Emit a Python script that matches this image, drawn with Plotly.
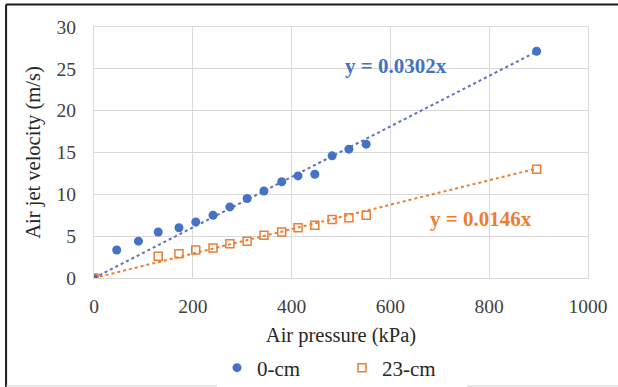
import plotly.graph_objects as go

pressure_0cm = [0, 46, 90, 130, 172, 206, 241, 275, 310, 344, 380, 413, 447, 482, 516, 551, 896]
velocity_0cm = [0, 3.35, 4.4, 5.5, 6.0, 6.7, 7.5, 8.5, 9.5, 10.4, 11.5, 12.2, 12.4, 14.6, 15.4, 16.0, 27.1]

pressure_23cm = [0, 130, 172, 206, 241, 275, 310, 344, 380, 413, 447, 482, 516, 551, 896]
velocity_23cm = [0, 2.6, 2.9, 3.35, 3.6, 4.1, 4.4, 5.1, 5.5, 6.0, 6.3, 7.0, 7.2, 7.5, 13.0]

slope_0cm = 0.0302
slope_23cm = 0.0146
trend_x = [0, 896]

x_ticks = [0, 200, 400, 600, 800, 1000]
y_ticks = [0, 5, 10, 15, 20, 25, 30]

BLUE = "#4472C4"
ORANGE = "#ED7D31"
FONT = "Liberation Serif"

fig = go.Figure()

fig.add_trace(go.Scatter(
    x=trend_x, y=[slope_0cm * v for v in trend_x], mode="lines",
    line=dict(color="#5a6fc0", width=2, dash="dot"), showlegend=False, hoverinfo="skip"))
fig.add_trace(go.Scatter(
    x=trend_x, y=[slope_23cm * v for v in trend_x], mode="lines",
    line=dict(color=ORANGE, width=2, dash="dot"), showlegend=False, hoverinfo="skip"))

fig.add_trace(go.Scatter(
    x=pressure_0cm, y=velocity_0cm, mode="markers", name="0-cm",
    marker=dict(symbol="circle", size=9, color=BLUE)))
fig.add_trace(go.Scatter(
    x=pressure_23cm, y=velocity_23cm, mode="markers", name="23-cm",
    marker=dict(symbol="square-open", size=8, color=ORANGE, line=dict(width=1.5, color=ORANGE))))

fig.add_annotation(x=611, y=25.3, text="<b>y = 0.0302x</b>", showarrow=False,
                   font=dict(family=FONT, size=21, color=BLUE))
fig.add_annotation(x=783, y=7.1, text="<b>y = 0.0146x</b>", showarrow=False,
                   font=dict(family=FONT, size=21, color=ORANGE))

# outer frame lines
fig.add_shape(type="line", xref="paper", yref="paper", x0=-0.178, x1=1.07, y0=1.09, y1=1.09,
              line=dict(color="#1a1a1a", width=2))
fig.add_shape(type="line", xref="paper", yref="paper", x0=-0.178, x1=-0.178, y0=1.09, y1=-0.44,
              line=dict(color="#1a1a1a", width=2))
fig.add_shape(type="line", xref="paper", yref="paper", x0=-0.178, x1=1.07, y0=-0.43, y1=-0.43,
              line=dict(color="#d0d0d0", width=1))

fig.update_xaxes(
    range=[0, 1000], tickvals=x_ticks, showgrid=True, gridcolor="#D9D9D9", gridwidth=1,
    zeroline=False, showline=True, linecolor="#D9D9D9", mirror=True, automargin=False,
    tickfont=dict(family=FONT, size=19.5, color="#404040"), ticklabelstandoff=11,
    title=dict(text="Air pressure (kPa)", font=dict(family=FONT, size=20.5, color="#262626"), standoff=21))
fig.update_yaxes(
    range=[0, 30], tickvals=y_ticks, showgrid=True, gridcolor="#D9D9D9", gridwidth=1,
    zeroline=False, showline=True, linecolor="#D9D9D9", mirror=True, automargin=False,
    tickfont=dict(family=FONT, size=19.5, color="#404040"), ticklabelstandoff=13,
    title=dict(text="Air jet velocity (m/s)", font=dict(family=FONT, size=20.5, color="#262626"), standoff=10))

fig.update_layout(
    width=618, height=387,
    margin=dict(l=94, r=30, t=27, b=109, autoexpand=False),
    paper_bgcolor="white", plot_bgcolor="white",
    font=dict(family=FONT),
    legend=dict(orientation="h", x=0.249, xanchor="left",
                yref="container", y=1 - 368 / 387, yanchor="middle",
                font=dict(family=FONT, size=21, color="#262626"),
                entrywidth=80, itemwidth=30, tracegroupgap=0),
)

fig.write_html("out.html")
